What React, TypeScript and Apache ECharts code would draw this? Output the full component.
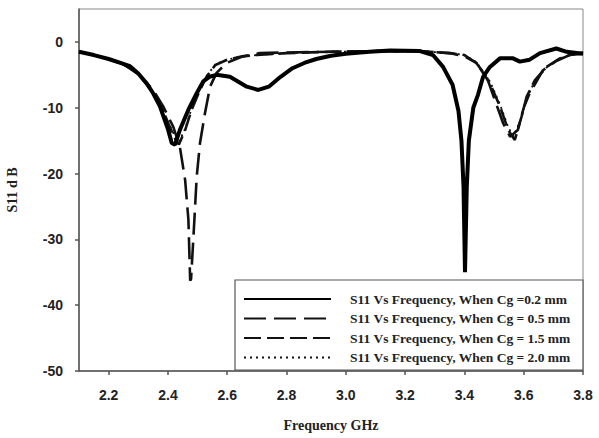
import React, { useEffect, useRef } from "react";
import * as echarts from "echarts";

const xTicks = [2.2, 2.4, 2.6, 2.8, 3.0, 3.2, 3.4, 3.6, 3.8];
const yTicks = [-50, -40, -30, -20, -10, 0];

const seriesNames = [
  "S11 Vs Frequency, When Cg =0.2 mm",
  "S11 Vs Frequency, When Cg = 0.5 mm",
  "S11 Vs Frequency, When Cg = 1.5 mm",
  "S11 Vs Frequency, When Cg = 2.0 mm",
];

const freqA = [2.10, 2.15, 2.20, 2.24, 2.272, 2.30, 2.328, 2.35, 2.373, 2.401, 2.413, 2.424, 2.44, 2.469, 2.497, 2.519, 2.54, 2.564, 2.609, 2.666, 2.705, 2.74, 2.78, 2.82, 2.86, 2.90, 2.95, 3.00, 3.08, 3.15, 3.25, 3.294, 3.328, 3.36, 3.38, 3.39, 3.397, 3.402, 3.408, 3.415, 3.43, 3.446, 3.463, 3.486, 3.52, 3.564, 3.587, 3.62, 3.655, 3.71, 3.745, 3.80];
const s11A = [-1.5, -2.0, -2.6, -3.2, -3.7, -4.8, -6.3, -7.8, -9.8, -13.4, -15.4, -15.6, -13.4, -10.3, -7.8, -6.0, -5.3, -5.0, -5.3, -6.8, -7.3, -6.8, -5.3, -4.0, -3.2, -2.6, -2.1, -1.8, -1.5, -1.3, -1.4, -2.0, -3.8, -6.5, -10.5, -15.0, -22.0, -35.0, -22.0, -15.0, -10.0, -8.0, -5.3, -3.8, -2.5, -2.5, -3.0, -2.7, -1.7, -1.0, -1.5, -1.8];

const freqB = [2.10, 2.15, 2.20, 2.25, 2.30, 2.35, 2.384, 2.418, 2.44, 2.458, 2.469, 2.475, 2.478, 2.488, 2.497, 2.508, 2.525, 2.542, 2.564, 2.598, 2.653, 2.71, 2.80, 2.95, 3.10, 3.25, 3.35, 3.40, 3.44, 3.475, 3.50, 3.531, 3.554, 3.58, 3.60, 3.62, 3.665, 3.71, 3.76, 3.80];
const s11B = [-1.5, -2.0, -2.6, -3.4, -4.8, -7.3, -9.8, -12.9, -15.9, -21.0, -27.0, -36.3, -36.0, -28.0, -20.5, -15.4, -10.8, -6.8, -4.7, -3.2, -2.2, -1.7, -1.6, -1.5, -1.4, -1.4, -1.7, -2.2, -3.2, -5.3, -8.5, -12.4, -14.4, -13.4, -10.0, -7.8, -4.3, -2.9, -1.9, -1.6];

const freqC = [2.10, 2.15, 2.20, 2.25, 2.30, 2.35, 2.38, 2.405, 2.425, 2.437, 2.458, 2.48, 2.508, 2.53, 2.56, 2.60, 2.65, 2.70, 2.80, 2.95, 3.10, 3.25, 3.35, 3.40, 3.441, 3.486, 3.52, 3.548, 3.57, 3.593, 3.61, 3.638, 3.677, 3.722, 3.756, 3.80];
const s11C = [-1.5, -2.0, -2.6, -3.4, -4.9, -7.6, -10.0, -12.8, -14.8, -15.6, -13.4, -10.3, -7.3, -5.3, -3.5, -2.7, -2.2, -2.0, -1.7, -1.5, -1.4, -1.4, -1.7, -2.0, -3.2, -6.3, -9.8, -13.4, -14.9, -11.3, -8.3, -5.8, -3.8, -2.5, -2.0, -1.8];

const freqD = [2.10, 2.15, 2.20, 2.25, 2.30, 2.35, 2.38, 2.405, 2.425, 2.437, 2.458, 2.48, 2.508, 2.53, 2.56, 2.60, 2.65, 2.70, 2.80, 2.95, 3.10, 3.25, 3.35, 3.40, 3.441, 3.486, 3.52, 3.548, 3.566, 3.59, 3.61, 3.638, 3.677, 3.722, 3.756, 3.80];
const s11D = [-1.5, -2.0, -2.6, -3.4, -4.9, -7.5, -9.9, -12.6, -14.5, -15.2, -13.2, -10.1, -7.1, -5.2, -3.4, -2.7, -2.2, -2.0, -1.7, -1.5, -1.4, -1.4, -1.7, -2.0, -3.1, -6.0, -9.5, -13.0, -14.3, -11.8, -8.6, -5.9, -3.9, -2.5, -2.0, -1.8];

const pairs = (xs: number[], ys: number[]) => xs.map((x, i) => [x, ys[i]]);

export default function App() {
  const ref = useRef<HTMLDivElement>(null);
  useEffect(() => {
    if (!ref.current) return;
    const chart = echarts.init(ref.current, null, { renderer: "svg" });
    const sansBold = { fontFamily: "Liberation Sans", fontWeight: "bold" as const, fontSize: 14, color: "#222" };
    chart.setOption({
      animation: false,
      backgroundColor: "#fff",
      grid: {
        left: 79, right: 16, top: 9, bottom: 67,
        containLabel: false, outerBoundsMode: "none",
        show: true, borderColor: "#888", borderWidth: 1, backgroundColor: "transparent",
      },
      xAxis: {
        type: "value",
        min: 2.1,
        max: 3.8,
        name: "Frequency GHz",
        nameLocation: "middle",
        nameGap: 47,
        nameTextStyle: { fontFamily: "Liberation Serif", fontWeight: "bold", fontSize: 14, color: "#222" },
        axisLine: { show: true, onZero: false, lineStyle: { color: "#555", width: 1.5 } },
        axisTick: { show: true, length: 4, customValues: xTicks, lineStyle: { color: "#555", width: 1.5 } },
        axisLabel: { ...sansBold, margin: 17, customValues: xTicks, formatter: (v: number) => v.toFixed(1), hideOverlap: false },
        splitLine: { show: false },
      },
      yAxis: {
        type: "value",
        min: -50,
        max: 5,
        name: "S11 d B",
        nameLocation: "middle",
        nameGap: 60,
        nameRotate: 90,
        nameTextStyle: { fontFamily: "Liberation Serif", fontWeight: "bold", fontSize: 14, color: "#222" },
        axisLine: { show: true, onZero: false, lineStyle: { color: "#555", width: 1.5 } },
        axisTick: { show: true, length: 4, customValues: yTicks, lineStyle: { color: "#555", width: 1.5 } },
        axisLabel: { ...sansBold, margin: 16, customValues: yTicks },
        splitLine: { show: false },
      },
      legend: {
        orient: "vertical",
        left: 243,
        top: 292,
        padding: 0,
        itemWidth: 87,
        itemHeight: 12,
        itemGap: 5.5,
        selectedMode: false,
        itemStyle: { color: "transparent", borderWidth: 0, opacity: 0 },
        textStyle: { fontFamily: "Liberation Serif", fontWeight: "bold", fontSize: 13.5, color: "#222", padding: [0, 0, 0, 14] },
        data: seriesNames,
      },
      graphic: [
        {
          type: "rect",
          z: 1,
          shape: { x: 235, y: 280, width: 348, height: 90 },
          style: { fill: "#fff", stroke: "#555", lineWidth: 1.2 },
        },
      ],
      series: [
        { name: seriesNames[0], type: "line", symbol: "none", data: pairs(freqA, s11A), lineStyle: { color: "#000", width: 4, type: "solid" }, itemStyle: { color: "#000" }, z: 5 },
        { name: seriesNames[1], type: "line", symbol: "none", data: pairs(freqB, s11B), lineStyle: { color: "#111", width: 2.6, type: [22, 8] }, itemStyle: { color: "#111" }, z: 4 },
        { name: seriesNames[2], type: "line", symbol: "none", data: pairs(freqC, s11C), lineStyle: { color: "#111", width: 2.6, type: [17, 6] }, itemStyle: { color: "#111" }, z: 4 },
        { name: seriesNames[3], type: "line", symbol: "none", data: pairs(freqD, s11D), lineStyle: { color: "#111", width: 1.8, type: [2, 4] }, itemStyle: { color: "#111" }, z: 3 },
      ],
    });
    return () => chart.dispose();
  }, []);
  return <div ref={ref} style={{ width: 599, height: 438, position: "absolute", left: 0, top: 0 }} />;
}
